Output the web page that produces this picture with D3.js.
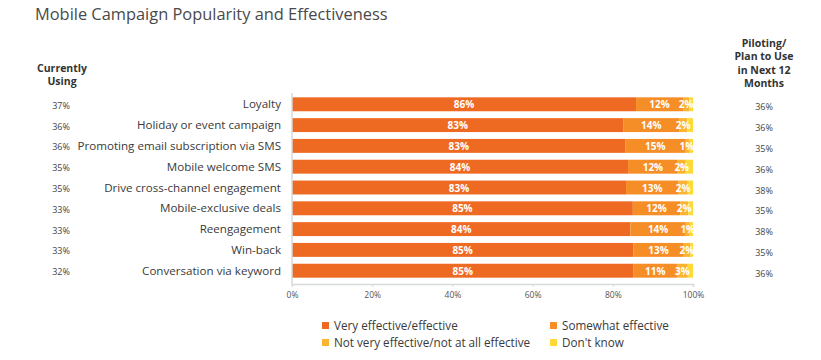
<!DOCTYPE html>
<html>
<head>
	<script src="https://cdn.jsdelivr.net/npm/d3@7/dist/d3.min.js"></script>
	<style>
		body { margin: 0; background: #fff; }
		text { font-family: "Open Sans", sans-serif; }
	</style>
</head>
<body>
	<script>
		// chart data
		var categories = ['Loyalty', 'Holiday or event campaign', 'Promoting email subscription via SMS',
			'Mobile welcome SMS', 'Drive cross-channel engagement', 'Mobile-exclusive deals',
			'Reengagement', 'Win-back', 'Conversation via keyword'];
		var veryEffective = [85.8, 82.7, 83.2, 83.8, 83.3, 85.0, 84.4, 85.1, 85.2];
		var somewhatEffective = [11.7, 13.8, 14.8, 12.4, 13.1, 11.8, 13.8, 12.6, 10.8];
		var notEffective = [1.6, 2.1, 1.0, 2.0, 2.3, 2.0, 1.0, 1.6, 2.7];
		var dontKnow = [0.9, 1.4, 1.0, 1.8, 1.3, 1.2, 0.8, 0.7, 1.3];
		var currentlyUsing = [37, 36, 36, 35, 35, 33, 33, 33, 32];
		var planToUse = [36, 36, 35, 36, 38, 35, 38, 35, 36];
		var seriesNames = ['Very effective/effective', 'Somewhat effective',
			'Not very effective/not at all effective', "Don't know"];
		var xTicks = [0, 20, 40, 60, 80, 100];

		var width = 821, height = 360;
		var colors = ['#ee6a23', '#f68e27', '#fbb432', '#fdd93a'];

		var svg = d3.select('body').append('svg')
			.attr('width', width)
			.attr('height', height);

		var x = d3.scaleLinear().domain([0, 100]).range([292, 693]);
		var y = d3.scaleBand().domain(categories).range([94, 281]).paddingInner(0.33).paddingOuter(0.16);

		// title
		svg.append('text')
			.attr('x', 35).attr('y', 20)
			.attr('font-size', 16.4).attr('fill', '#4a4a4a')
			.text('Mobile Campaign Popularity and Effectiveness');

		// column headers
		var leftHead = svg.append('text')
			.attr('text-anchor', 'middle').attr('font-size', 10.5)
			.attr('font-weight', 'bold').attr('fill', '#333');
		['Currently', 'Using'].forEach(function (t, i) {
			leftHead.append('tspan').attr('x', 62).attr('y', 72 + i * 12.5).text(t);
		});
		var rightHead = svg.append('text')
			.attr('text-anchor', 'middle').attr('font-size', 10.5)
			.attr('font-weight', 'bold').attr('fill', '#333');
		['Piloting/', 'Plan to Use', 'in Next 12', 'Months'].forEach(function (t, i) {
			rightHead.append('tspan').attr('x', 764).attr('y', 47 + i * 13.3).text(t);
		});

		// stack
		var rows = categories.map(function (c, i) {
			return { cat: c, v: [veryEffective[i], somewhatEffective[i], notEffective[i], dontKnow[i]] };
		});
		var stack = d3.stack().keys([0, 1, 2, 3]).value(function (d, k) { return d.v[k]; });
		var layers = stack(rows);

		svg.selectAll('g.layer').data(layers).enter().append('g')
			.attr('class', 'layer')
			.attr('fill', function (d, i) { return colors[i]; })
			.selectAll('rect').data(function (d) { return d; }).enter().append('rect')
			.attr('x', function (d) { return x(d[0]); })
			.attr('y', function (d) { return y(d.data.cat); })
			.attr('width', function (d) { return x(d[1]) - x(d[0]); })
			.attr('height', y.bandwidth());

		// bar labels for the first three series
		layers.slice(0, 3).forEach(function (layer) {
			svg.append('g').selectAll('text').data(layer).enter().append('text')
				.attr('x', function (d) { return (x(d[0]) + x(d[1])) / 2; })
				.attr('y', function (d) { return y(d.data.cat) + y.bandwidth() / 2 + 4; })
				.attr('text-anchor', 'middle')
				.attr('font-size', 10).attr('font-weight', 'bold').attr('fill', '#fff')
				.text(function (d) { return Math.round(d[1] - d[0]) + '%'; });
		});

		// category labels
		svg.append('g').selectAll('text').data(categories).enter().append('text')
			.attr('x', 281)
			.attr('y', function (d) { return y(d) + y.bandwidth() / 2 + 4; })
			.attr('text-anchor', 'end').attr('font-size', 11.6).attr('fill', '#3a3a3a')
			.text(function (d) { return d; });

		// side columns
		svg.append('g').selectAll('text').data(currentlyUsing).enter().append('text')
			.attr('x', 61)
			.attr('y', function (d, i) { return y(categories[i]) + y.bandwidth() / 2 + 4.5; })
			.attr('text-anchor', 'middle').attr('font-size', 9).attr('fill', '#444')
			.text(function (d) { return d + '%'; });
		svg.append('g').selectAll('text').data(planToUse).enter().append('text')
			.attr('x', 764)
			.attr('y', function (d, i) { return y(categories[i]) + y.bandwidth() / 2 + 6; })
			.attr('text-anchor', 'middle').attr('font-size', 9).attr('fill', '#444')
			.text(function (d) { return d + '%'; });

		// axes
		svg.append('line')
			.attr('x1', x(0)).attr('x2', x(0)).attr('y1', 93).attr('y2', 285)
			.attr('stroke', '#d6d9dc').attr('stroke-width', 1.5);
		var xAxis = svg.append('g')
			.attr('transform', 'translate(0,284)')
			.call(d3.axisBottom(x).tickValues(xTicks).tickSize(3)
				.tickFormat(function (d) { return d + '%'; }));
		xAxis.select('.domain').attr('stroke', '#d6d9dc').attr('stroke-width', 1.5);
		xAxis.selectAll('.tick line').attr('stroke', '#d6d9dc');
		xAxis.selectAll('.tick text')
			.attr('font-family', '"Open Sans", sans-serif')
			.attr('font-size', 8.5).attr('fill', '#555').attr('dy', '0.9em');

		// legend
		var legendPos = [[322, 326], [550, 326], [322, 343], [550, 343]];
		var legend = svg.append('g').selectAll('g').data(seriesNames).enter().append('g')
			.attr('transform', function (d, i) { return 'translate(' + legendPos[i][0] + ',' + legendPos[i][1] + ')'; });
		legend.append('rect')
			.attr('x', 0).attr('y', -4).attr('width', 7).attr('height', 7)
			.attr('fill', function (d, i) { return colors[i]; });
		legend.append('text')
			.attr('x', 12).attr('y', 3.5)
			.attr('font-size', 11.7).attr('fill', '#3a3a3a')
			.text(function (d) { return d; });
	</script>
</body>
</html>
